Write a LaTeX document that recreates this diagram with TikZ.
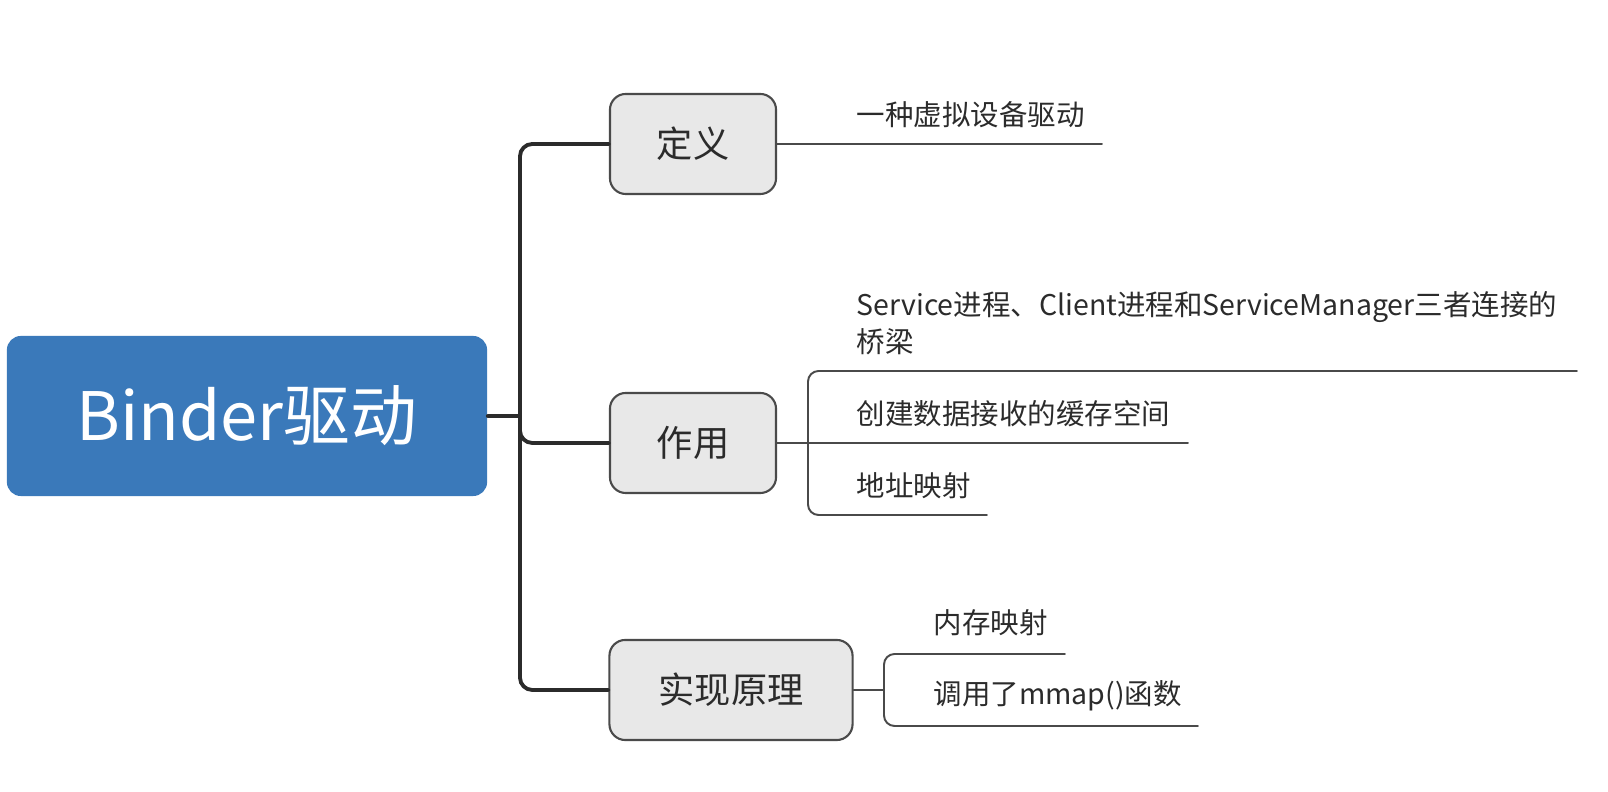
\documentclass[tikz,border=0pt]{standalone}
\usepackage{fontspec}
\setmainfont{Noto Sans CJK SC}
\usetikzlibrary{arrows.meta}
\definecolor{binderblue}{HTML}{3A79BA}
\definecolor{boxgray}{HTML}{E8E8E8}
\definecolor{edgegray}{HTML}{4A4A4A}
\definecolor{inkgray}{HTML}{2B2B2B}

\begin{document}
\begin{tikzpicture}[x=0.01cm, y=-0.01cm, line join=round, line cap=round]
        \tikzset{root/.style={fill=binderblue, rounded corners=4pt, text=white,
                 minimum width=4.8cm, minimum height=1.6cm, inner sep=0pt,
                 font=\fontsize{19}{23}\selectfont}}
        \tikzset{branch/.style={draw=edgegray, line width=0.6pt, fill=boxgray,
                 rounded corners=4.5pt, text=inkgray, minimum height=1.0cm, inner sep=0pt,
                 font=\fontsize{10.3}{12}\selectfont}}
        \tikzset{leaf/.style={anchor=west, inner sep=0pt, text=inkgray, align=left,
                 font=\fontsize{8.1}{10.5}\selectfont}}
        \tikzset{trunk/.style={draw=inkgray, line width=1.1pt, rounded corners=3.5pt}}
        \tikzset{twig/.style={draw=edgegray, line width=0.55pt, rounded corners=3pt}}
        \useasboundingbox (0, 0) rectangle (1608, 792);
        % root and branches
        \node[root] (binder) at (247, 416) {Binder驱动};
        \node[branch, minimum width=1.66cm] (dingyi) at (693, 144) {定义};
        \node[branch, minimum width=1.66cm] (zuoyong) at (693, 443) {作用};
        \node[branch, minimum width=2.43cm] (shixian) at (731, 690) {实现原理};
        \coordinate (trunk) at (520, 416);
        \draw[trunk] (binder.east) -- (trunk);
        \draw[trunk] (dingyi.west) -| (trunk) |- (shixian.west);
        \draw[trunk] (trunk) |- (zuoyong.west);
        % leaves of the definition
        \node[leaf] (xuni) at (856, 115) {一种虚拟设备驱动};
        \coordinate (xuniend) at (1102, 144);
        \draw[twig] (dingyi.east) -- (xuniend);
        % leaves of the role
        \node[leaf] (qiaoliang) at (856, 323) {Service进程、Client进程和ServiceManager三者连接的\\桥梁};
        \node[leaf] (huancun) at (856, 414) {创建数据接收的缓存空间};
        \node[leaf] (dizhi) at (856, 486) {地址映射};
        \coordinate (zyjoin) at (808, 443);
        \coordinate (qiaoend) at (1577, 371);
        \coordinate (huanend) at (1188, 443);
        \coordinate (dizhiend) at (987, 515);
        \draw[twig] (zuoyong.east) -- (huanend);
        \draw[twig] (qiaoend) -| (zyjoin) |- (dizhiend);
        % leaves of the principle
        \node[leaf] (neicun) at (933, 623) {内存映射};
        \node[leaf] (mmap) at (933, 696) {调用了mmap()函数};
        \coordinate (sxjoin) at (884, 690);
        \coordinate (neiend) at (1065, 654);
        \coordinate (mmapend) at (1198, 726);
        \draw[twig] (shixian.east) -- (sxjoin);
        \draw[twig] (neiend) -| (sxjoin) |- (mmapend);
\end{tikzpicture}
\end{document}
